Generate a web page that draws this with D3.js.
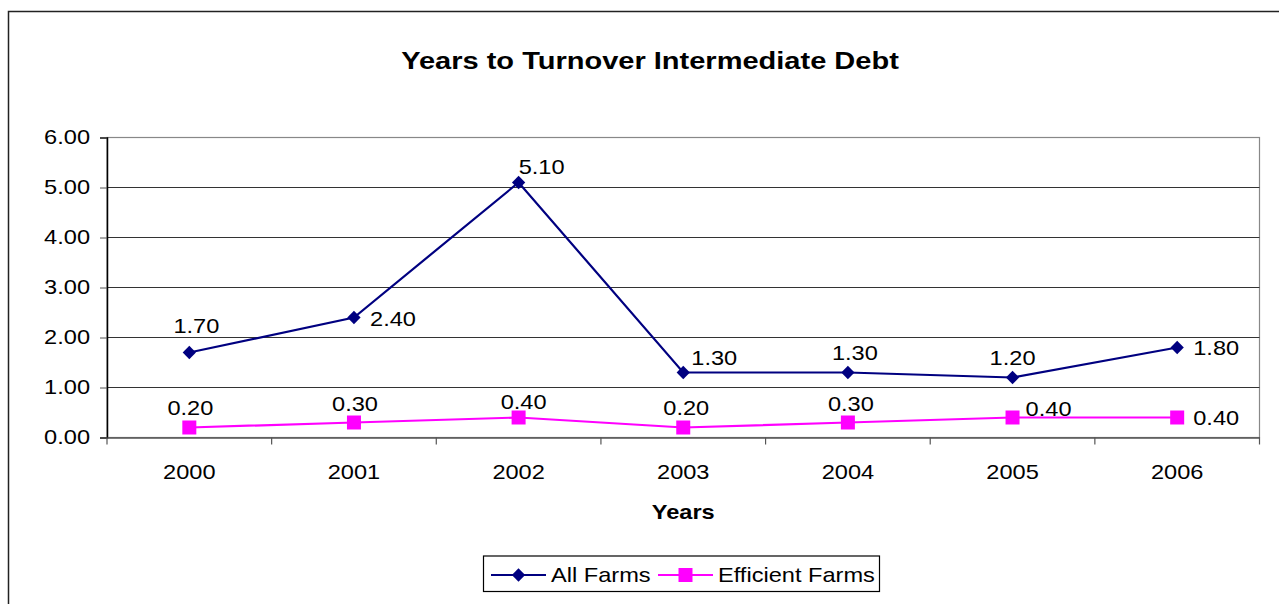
<!DOCTYPE html>
<html>
<head>
<meta charset="utf-8">
<script src="https://cdn.jsdelivr.net/npm/d3@7"></script>
<style>
  body { margin: 0; background: #fff; }
  svg { display: block; font-family: "Liberation Sans", Arial, sans-serif; }
</style>
</head>
<body>
<svg id="chart" width="1279" height="604"></svg>
<script>
// Chart data
const years = ["2000", "2001", "2002", "2003", "2004", "2005", "2006"];
const allFarms = [1.70, 2.40, 5.10, 1.30, 1.30, 1.20, 1.80];
const efficientFarms = [0.20, 0.30, 0.40, 0.20, 0.30, 0.40, 0.40];
const yTicks = [0, 1, 2, 3, 4, 5, 6];

// Data-label placement relative to each point (pixels)
const allFarmsLabelOffset = [[7, -20], [39, 8], [23, -9], [31, -8], [7, -13], [0, -13], [39, 7]];
const efficientLabelOffset = [[1, -13], [1, -12], [5, -9], [3, -13], [3, -12], [36, -2], [39, 7]];

// Text in this chart is drawn slightly wide
const STRETCH = 1.18;
function widen(sel) {
  sel.each(function () {
    const t = d3.select(this);
    const tx = +t.attr("x") || 0, ty = +t.attr("y") || 0;
    t.attr("x", 0).attr("y", 0)
      .attr("transform", `translate(${tx},${ty}) scale(${STRETCH},1)`);
  });
}

const svg = d3.select("#chart");
const m = { left: 107, right: 1259.5, top: 137.5, bottom: 437.5 };

// Outer chart frame
svg.append("rect")
  .attr("x", 8.5).attr("y", 11.5)
  .attr("width", 1279).attr("height", 620)
  .attr("fill", "none").attr("stroke", "#222").attr("stroke-width", 1.5);

const x = d3.scaleBand().domain(years).range([m.left, m.right]);
const y = d3.scaleLinear().domain([0, 6]).range([m.bottom, m.top]);
const cx = d => x(d) + x.bandwidth() / 2;

// Title
svg.append("text")
  .attr("x", 650).attr("y", 68.5)
  .attr("text-anchor", "middle")
  .attr("font-size", 24.6).attr("font-weight", "bold")
  .text("Years to Turnover Intermediate Debt")
  .call(widen);

// Plot frame (top/right in gray)
svg.append("rect")
  .attr("x", m.left).attr("y", m.top)
  .attr("width", m.right - m.left).attr("height", m.bottom - m.top)
  .attr("fill", "none").attr("stroke", "#888").attr("stroke-width", 1.2);

// Horizontal gridlines
svg.append("g")
  .selectAll("line")
  .data(yTicks.filter(d => d > 0 && d < 6))
  .join("line")
  .attr("x1", m.left).attr("x2", m.right)
  .attr("y1", d => y(d)).attr("y2", d => y(d))
  .attr("stroke", "#333").attr("stroke-width", 1);

// Y axis
const yAxis = svg.append("g")
  .attr("transform", `translate(${m.left},0)`)
  .call(d3.axisLeft(y).tickValues(yTicks).tickFormat(d3.format(".2f")).tickSize(7).tickPadding(10));
yAxis.select(".domain").attr("stroke", "#000").attr("stroke-width", 1.5);
yAxis.selectAll(".tick line").attr("stroke", "#555");
yAxis.selectAll("text").attr("font-size", 20).attr("fill", "#000")
  .attr("font-family", "Liberation Sans, Arial, sans-serif").call(widen);

// X axis with ticks at category boundaries
const xAxis = svg.append("g")
  .attr("transform", `translate(0,${m.bottom})`)
  .call(d3.axisBottom(x).tickSize(0).tickPadding(27));
xAxis.select(".domain").attr("stroke", "#555").attr("stroke-width", 1.5);
xAxis.selectAll("text").attr("font-size", 20).attr("fill", "#000")
  .attr("font-family", "Liberation Sans, Arial, sans-serif").call(widen);
xAxis.selectAll("line.boundary")
  .data(years.concat(["end"]))
  .join("line")
  .attr("class", "boundary")
  .attr("x1", (d, i) => m.left + i * x.bandwidth())
  .attr("x2", (d, i) => m.left + i * x.bandwidth())
  .attr("y1", 0).attr("y2", 7)
  .attr("stroke", "#555").attr("stroke-width", 1.2);

// X axis title
svg.append("text")
  .attr("x", (m.left + m.right) / 2).attr("y", 519)
  .attr("text-anchor", "middle")
  .attr("font-size", 20).attr("font-weight", "bold")
  .text("Years")
  .call(widen);

const line = d3.line().x((d, i) => cx(years[i])).y(d => y(d));

// Marker shapes: upright square, or a square turned 45 degrees
function markerTransform(px, py, type) {
  return type === "diamond" ? `translate(${px},${py}) rotate(45)` : `translate(${px},${py})`;
}
const markerSize = { diamond: 88, square: 196 };

function drawSeries(values, color, type, offsets) {
  const g = svg.append("g");
  g.append("path")
    .datum(values)
    .attr("d", line)
    .attr("fill", "none").attr("stroke", color).attr("stroke-width", 2.2);
  g.selectAll("path.mark")
    .data(values)
    .join("path")
    .attr("class", "mark")
    .attr("transform", (d, i) => markerTransform(cx(years[i]), y(d), type))
    .attr("d", d3.symbol().type(d3.symbolSquare).size(markerSize[type]))
    .attr("fill", color);
  g.selectAll("text")
    .data(values)
    .join("text")
    .attr("x", (d, i) => cx(years[i]) + offsets[i][0])
    .attr("y", (d, i) => y(d) + offsets[i][1])
    .attr("text-anchor", "middle")
    .attr("font-size", 20)
    .text(d => d.toFixed(2))
    .call(widen);
}

drawSeries(efficientFarms, "#FF00FF", "square", efficientLabelOffset);
drawSeries(allFarms, "#000080", "diamond", allFarmsLabelOffset);

// Legend
const legend = svg.append("g");
legend.append("rect")
  .attr("x", 483.5).attr("y", 556)
  .attr("width", 396).attr("height", 35.5)
  .attr("fill", "#fff").attr("stroke", "#000").attr("stroke-width", 1.2);
const legendItems = [
  { name: "All Farms", color: "#000080", type: "diamond", x: 491 },
  { name: "Efficient Farms", color: "#FF00FF", type: "square", x: 658 }
];
legendItems.forEach(it => {
  legend.append("line")
    .attr("x1", it.x).attr("x2", it.x + 55)
    .attr("y1", 575).attr("y2", 575)
    .attr("stroke", it.color).attr("stroke-width", 2.2);
  legend.append("path")
    .attr("transform", markerTransform(it.x + 27.5, 575, it.type))
    .attr("d", d3.symbol().type(d3.symbolSquare).size(markerSize[it.type]))
    .attr("fill", it.color);
  legend.append("text")
    .attr("x", it.x + 60).attr("y", 582)
    .attr("font-size", 20)
    .text(it.name)
    .call(widen);
});
</script>
</body>
</html>
